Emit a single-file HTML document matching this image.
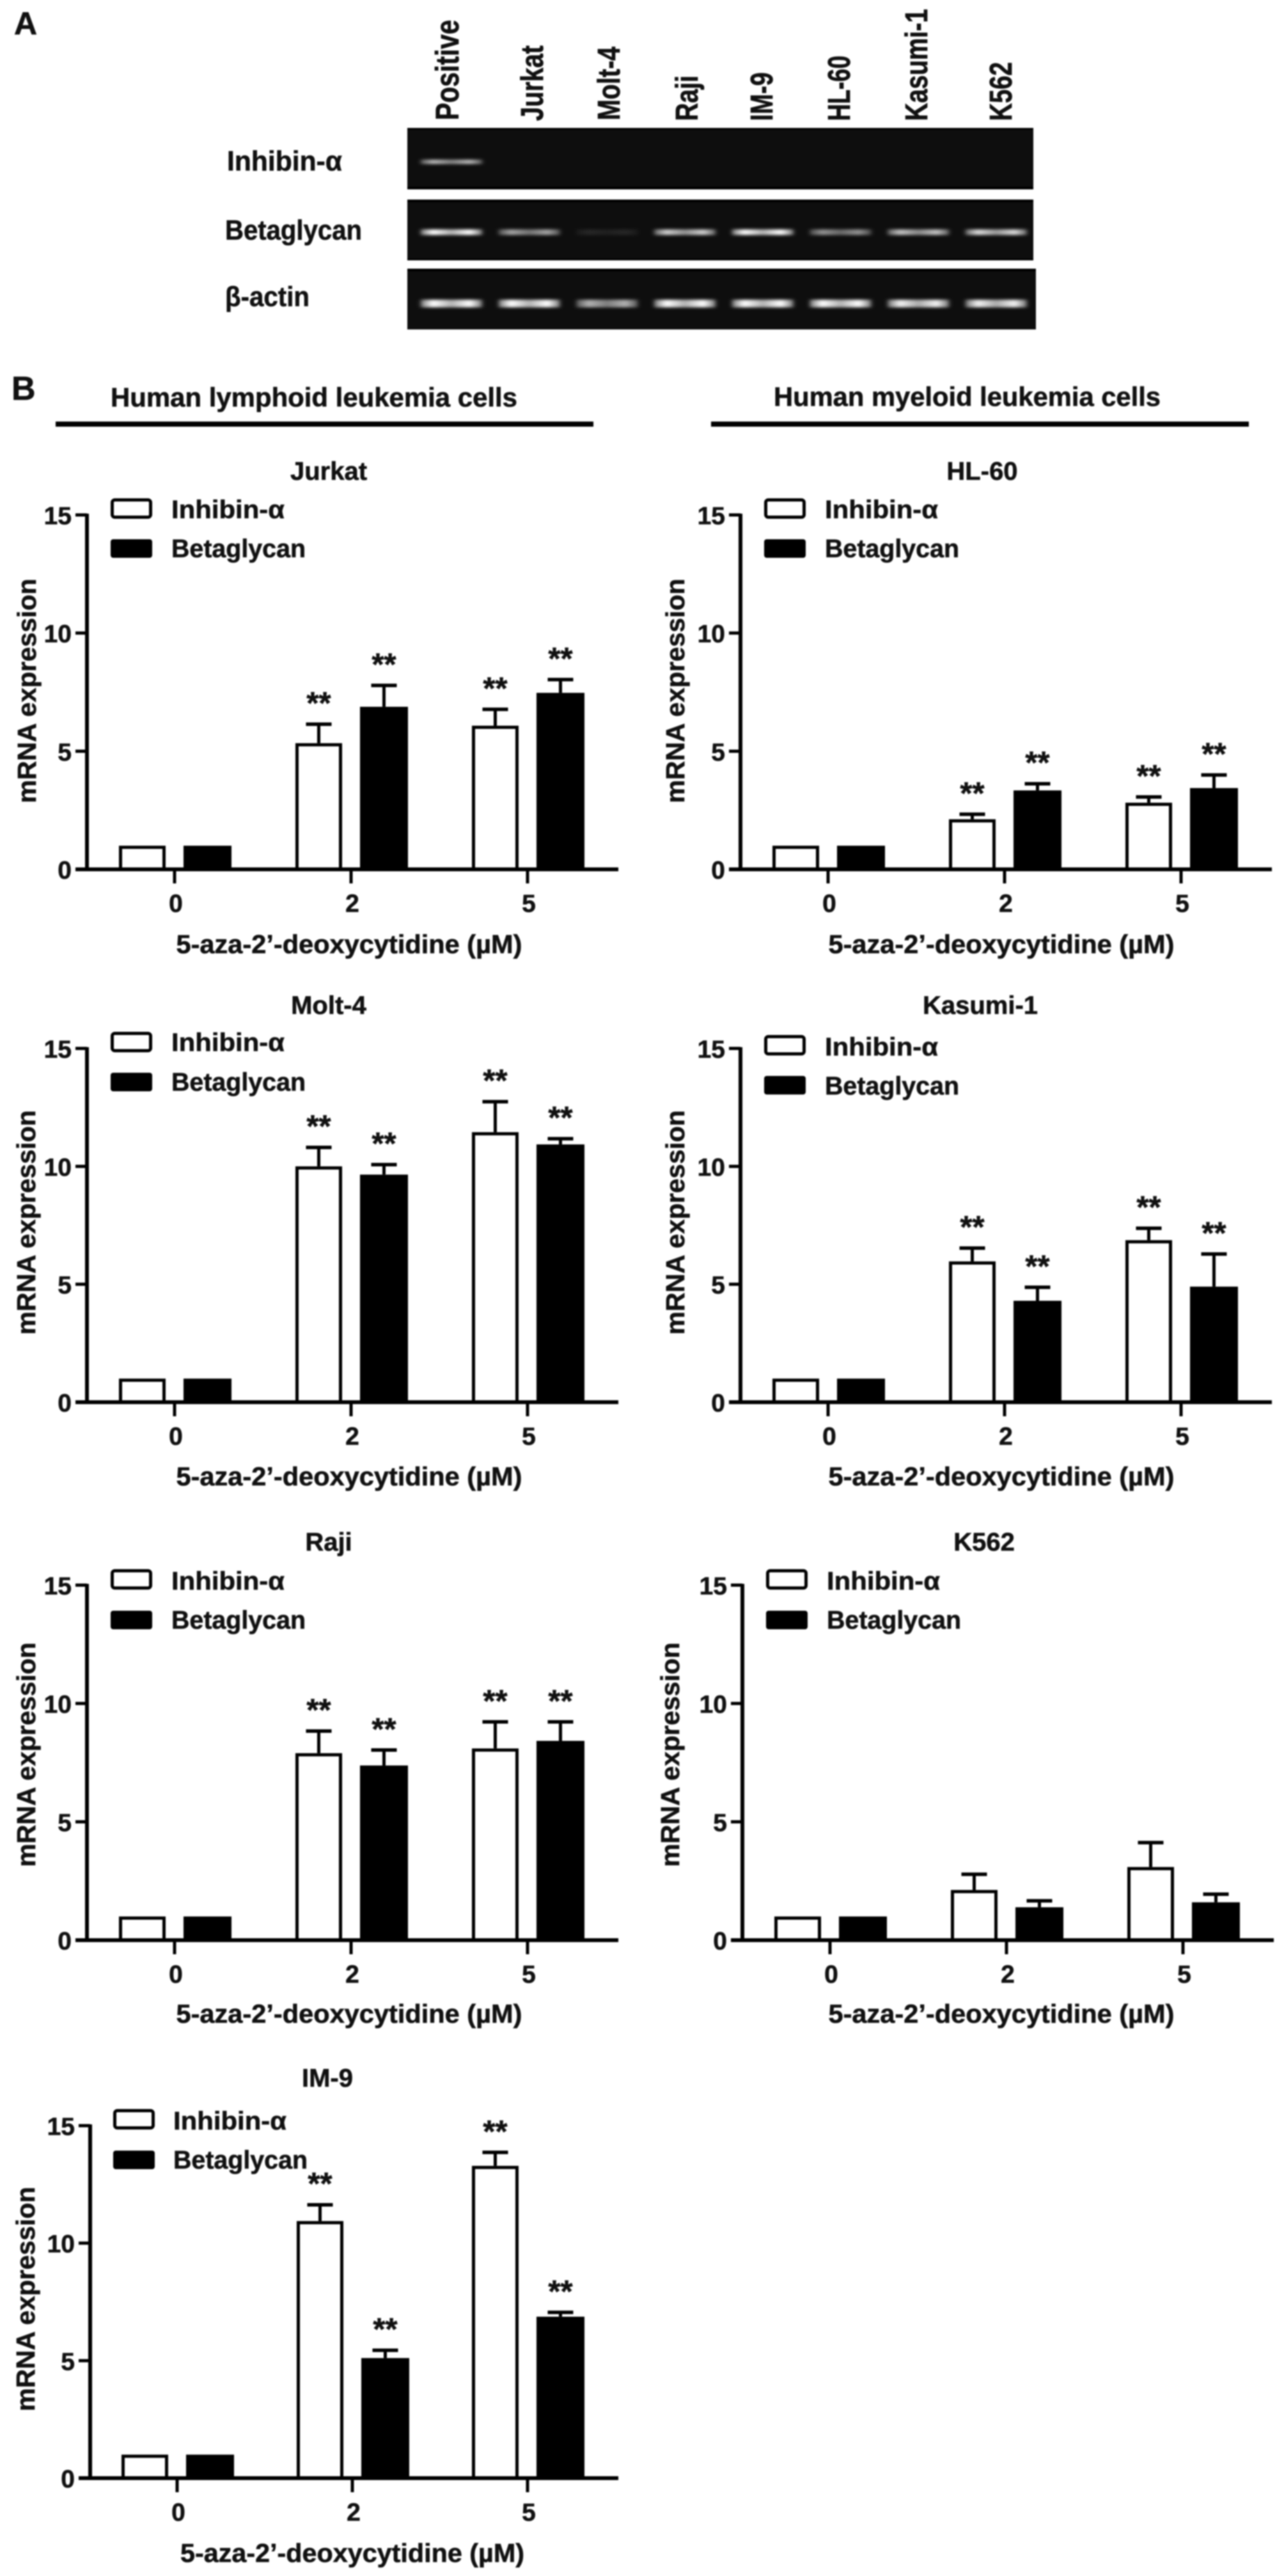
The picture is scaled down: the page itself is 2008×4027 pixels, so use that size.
<!DOCTYPE html>
<html lang="en">
<head>
<meta charset="utf-8">
<title>Inhibin-α and betaglycan mRNA expression in leukemia cells</title>
<style>
html,body{margin:0;padding:0;background:#fff;width:2008px;height:4027px;overflow:hidden}
svg{display:block;filter:blur(1px)}
text{font-family:"Liberation Sans",sans-serif;font-weight:bold;fill:#111;stroke:#111;stroke-width:.6px}
.c{dominant-baseline:central}
.m{text-anchor:middle}
</style>
</head>
<body>
<svg id="figure" xmlns="http://www.w3.org/2000/svg" width="2008" height="4027" viewBox="0 0 2008 4027">
<defs>
<filter id="bandBlur" x="-30%" y="-200%" width="160%" height="500%"><feGaussianBlur stdDeviation="3.5 2"/></filter>
<linearGradient id="bandShade" x1="0" x2="1" y1="0" y2="0">
<stop offset="0" stop-color="#fff" stop-opacity=".45"/>
<stop offset=".2" stop-color="#fff" stop-opacity="1"/>
<stop offset=".5" stop-color="#fff" stop-opacity=".68"/>
<stop offset=".8" stop-color="#fff" stop-opacity="1"/>
<stop offset="1" stop-color="#fff" stop-opacity=".45"/>
</linearGradient>
</defs>
<rect width="2008" height="4027" fill="#fff"/>

<text class="c" x="22" y="37" font-size="50">A</text>
<text class="c" x="18" y="608" font-size="52">B</text>

<g id="gel">
<text transform="translate(717,188) rotate(-90) scale(1,1.25)" font-size="41" textLength="157" lengthAdjust="spacingAndGlyphs">Positive</text>
<text transform="translate(849,189) rotate(-90) scale(1,1.25)" font-size="39" textLength="118" lengthAdjust="spacingAndGlyphs">Jurkat</text>
<text transform="translate(969,188) rotate(-90) scale(1,1.25)" font-size="39" textLength="115" lengthAdjust="spacingAndGlyphs">Molt-4</text>
<text transform="translate(1091,189) rotate(-90) scale(1,1.25)" font-size="39" textLength="71" lengthAdjust="spacingAndGlyphs">Raji</text>
<text transform="translate(1208,189) rotate(-90) scale(1,1.25)" font-size="39" textLength="76" lengthAdjust="spacingAndGlyphs">IM-9</text>
<text transform="translate(1329,189) rotate(-90) scale(1,1.25)" font-size="39" textLength="102" lengthAdjust="spacingAndGlyphs">HL-60</text>
<text transform="translate(1450,189) rotate(-90) scale(1,1.25)" font-size="39" textLength="175" lengthAdjust="spacingAndGlyphs">Kasumi-1</text>
<text transform="translate(1582,189) rotate(-90) scale(1,1.25)" font-size="39" textLength="92" lengthAdjust="spacingAndGlyphs">K562</text>

<text class="c" x="355" y="252" font-size="44" textLength="180" lengthAdjust="spacingAndGlyphs">Inhibin-α</text>
<text class="c" x="352" y="360" font-size="44" textLength="214" lengthAdjust="spacingAndGlyphs">Betaglycan</text>
<text class="c" x="352" y="464" font-size="44" textLength="132" lengthAdjust="spacingAndGlyphs">β-actin</text>

<rect x="637" y="200" width="979" height="96" fill="#0e0e0e"/>
<rect x="637" y="200" width="979" height="3" fill="#030303"/>
<rect x="637" y="292" width="979" height="4" fill="#000"/>
<rect x="637" y="312" width="979" height="95" fill="#0e0e0e"/>
<rect x="637" y="312" width="979" height="4" fill="#000"/>
<rect x="637" y="404" width="979" height="3" fill="#030303"/>
<rect x="637" y="420" width="983" height="95" fill="#0e0e0e"/>
<rect x="637" y="420" width="983" height="4" fill="#000"/>
</g>

<text class="c" x="173" y="621" font-size="42" textLength="636" lengthAdjust="spacingAndGlyphs">Human lymphoid leukemia cells</text>
<text class="c" x="1210" y="620" font-size="42" textLength="605" lengthAdjust="spacingAndGlyphs">Human myeloid leukemia cells</text>
<rect x="87" y="659" width="841" height="8" fill="#000"/>
<rect x="1112" y="659" width="841" height="8" fill="#000"/>

<g id="panel-jurkat" transform="translate(136,1359)">
<text class="c m" x="378" y="-622" font-size="40">Jurkat</text>
<rect x="39.5" y="-577.5" width="60" height="27" rx="4" fill="#fff" stroke="#000" stroke-width="5"/>
<text class="c" x="132" y="-562" font-size="40" textLength="177" lengthAdjust="spacingAndGlyphs">Inhibin-α</text>
<rect x="37" y="-516" width="65" height="29" rx="4" fill="#000"/>
<text class="c" x="132" y="-501" font-size="40" textLength="210" lengthAdjust="spacingAndGlyphs">Betaglycan</text>
<text class="c m" transform="translate(-94,-279) rotate(-90)" font-size="41" textLength="351" lengthAdjust="spacingAndGlyphs">mRNA expression</text>
<text class="c m" x="410" y="117" font-size="41" textLength="541" lengthAdjust="spacingAndGlyphs">5-aza-2’-deoxycytidine (µM)</text>
</g>

<g id="panel-hl60" transform="translate(1158,1359)">
<text class="c m" x="378" y="-622" font-size="40">HL-60</text>
<rect x="39.5" y="-577.5" width="60" height="27" rx="4" fill="#fff" stroke="#000" stroke-width="5"/>
<text class="c" x="132" y="-562" font-size="40" textLength="177" lengthAdjust="spacingAndGlyphs">Inhibin-α</text>
<rect x="37" y="-516" width="65" height="29" rx="4" fill="#000"/>
<text class="c" x="132" y="-501" font-size="40" textLength="210" lengthAdjust="spacingAndGlyphs">Betaglycan</text>
<text class="c m" transform="translate(-102,-279) rotate(-90)" font-size="41" textLength="351" lengthAdjust="spacingAndGlyphs">mRNA expression</text>
<text class="c m" x="408" y="117" font-size="41" textLength="541" lengthAdjust="spacingAndGlyphs">5-aza-2’-deoxycytidine (µM)</text>
</g>

<g id="panel-molt4" transform="translate(136,2192)">
<text class="c m" x="378" y="-620" font-size="40">Molt-4</text>
<rect x="39.5" y="-576.5" width="60" height="27" rx="4" fill="#fff" stroke="#000" stroke-width="5"/>
<text class="c" x="132" y="-562" font-size="40" textLength="177" lengthAdjust="spacingAndGlyphs">Inhibin-α</text>
<rect x="37" y="-515" width="65" height="29" rx="4" fill="#000"/>
<text class="c" x="132" y="-500" font-size="40" textLength="210" lengthAdjust="spacingAndGlyphs">Betaglycan</text>
<text class="c m" transform="translate(-95,-281) rotate(-90)" font-size="41" textLength="351" lengthAdjust="spacingAndGlyphs">mRNA expression</text>
<text class="c m" x="410" y="116" font-size="41" textLength="541" lengthAdjust="spacingAndGlyphs">5-aza-2’-deoxycytidine (µM)</text>
</g>

<g id="panel-kasumi" transform="translate(1158,2192)">
<text class="c m" x="375" y="-620" font-size="40">Kasumi-1</text>
<rect x="39.5" y="-571.5" width="60" height="27" rx="4" fill="#fff" stroke="#000" stroke-width="5"/>
<text class="c" x="132" y="-555" font-size="40" textLength="177" lengthAdjust="spacingAndGlyphs">Inhibin-α</text>
<rect x="37" y="-510" width="65" height="29" rx="4" fill="#000"/>
<text class="c" x="132" y="-494" font-size="40" textLength="210" lengthAdjust="spacingAndGlyphs">Betaglycan</text>
<text class="c m" transform="translate(-102,-281) rotate(-90)" font-size="41" textLength="351" lengthAdjust="spacingAndGlyphs">mRNA expression</text>
<text class="c m" x="408" y="116" font-size="41" textLength="541" lengthAdjust="spacingAndGlyphs">5-aza-2’-deoxycytidine (µM)</text>
</g>

<g id="panel-raji" transform="translate(136,3033)">
<text class="c m" x="378" y="-622" font-size="40">Raji</text>
<rect x="39.5" y="-577.5" width="60" height="27" rx="4" fill="#fff" stroke="#000" stroke-width="5"/>
<text class="c" x="132" y="-561" font-size="40" textLength="177" lengthAdjust="spacingAndGlyphs">Inhibin-α</text>
<rect x="37" y="-515" width="65" height="29" rx="4" fill="#000"/>
<text class="c" x="132" y="-500" font-size="40" textLength="210" lengthAdjust="spacingAndGlyphs">Betaglycan</text>
<text class="c m" transform="translate(-95,-290) rotate(-90)" font-size="41" textLength="351" lengthAdjust="spacingAndGlyphs">mRNA expression</text>
<text class="c m" x="410" y="115" font-size="41" textLength="541" lengthAdjust="spacingAndGlyphs">5-aza-2’-deoxycytidine (µM)</text>
</g>

<g id="panel-k562" transform="translate(1161,3033)">
<text class="c m" x="378" y="-622" font-size="40">K562</text>
<rect x="39.5" y="-577.5" width="60" height="27" rx="4" fill="#fff" stroke="#000" stroke-width="5"/>
<text class="c" x="132" y="-561" font-size="40" textLength="177" lengthAdjust="spacingAndGlyphs">Inhibin-α</text>
<rect x="37" y="-515" width="65" height="29" rx="4" fill="#000"/>
<text class="c" x="132" y="-500" font-size="40" textLength="210" lengthAdjust="spacingAndGlyphs">Betaglycan</text>
<text class="c m" transform="translate(-113,-290) rotate(-90)" font-size="41" textLength="351" lengthAdjust="spacingAndGlyphs">mRNA expression</text>
<text class="c m" x="405" y="115" font-size="41" textLength="541" lengthAdjust="spacingAndGlyphs">5-aza-2’-deoxycytidine (µM)</text>
</g>

<g id="panel-im9" transform="translate(141,3874)">
<text class="c m" x="371" y="-625" font-size="40">IM-9</text>
<rect x="38.5" y="-574.5" width="60" height="27" rx="4" fill="#fff" stroke="#000" stroke-width="5"/>
<text class="c" x="130" y="-558" font-size="40" textLength="177" lengthAdjust="spacingAndGlyphs">Inhibin-α</text>
<rect x="36" y="-512" width="65" height="29" rx="4" fill="#000"/>
<text class="c" x="130" y="-497" font-size="40" textLength="210" lengthAdjust="spacingAndGlyphs">Betaglycan</text>
<text class="c m" transform="translate(-101,-280) rotate(-90)" font-size="41" textLength="351" lengthAdjust="spacingAndGlyphs">mRNA expression</text>
<text class="c m" x="410" y="117" font-size="41" textLength="538" lengthAdjust="spacingAndGlyphs">5-aza-2’-deoxycytidine (µM)</text>
</g>
</svg>

<script>
// ---- shared axis data ----
var doseLabels = ['0', '2', '5'];
var yTicks = [0, 5, 10, 15];

// ---- series values: mean and upper error-bar value ----
var jurkatInhibin = [1, 5.34, 6.08];
var jurkatInhibinTop = [1, 6.17, 6.8];
var jurkatBeta = [1, 6.88, 7.47];
var jurkatBetaTop = [1, 7.81, 8.06];
var jurkatInhibinStars = ['', '**', '**'];
var jurkatBetaStars = ['', '**', '**'];

var hl60Inhibin = [1, 2.12, 2.82];
var hl60InhibinTop = [1, 2.36, 3.09];
var hl60Beta = [1, 3.34, 3.44];
var hl60BetaTop = [1, 3.65, 4.02];
var hl60InhibinStars = ['', '**', '**'];
var hl60BetaStars = ['', '**', '**'];

var molt4Inhibin = [1, 10.0, 11.45];
var molt4InhibinTop = [1, 10.83, 12.77];
var molt4Beta = [1, 9.65, 10.93];
var molt4BetaTop = [1, 10.1, 11.2];
var molt4InhibinStars = ['', '**', '**'];
var molt4BetaStars = ['', '**', '**'];

var kasumiInhibin = [1, 5.97, 6.87];
var kasumiInhibinTop = [1, 6.56, 7.4];
var kasumiBeta = [1, 4.3, 4.9];
var kasumiBetaTop = [1, 4.9, 6.31];
var kasumiInhibinStars = ['', '**', '**'];
var kasumiBetaStars = ['', '**', '**'];

var rajiInhibin = [1, 7.9, 8.1];
var rajiInhibinTop = [1, 8.86, 9.25];
var rajiBeta = [1, 7.38, 8.42];
var rajiBetaTop = [1, 8.06, 9.25];
var rajiInhibinStars = ['', '**', '**'];
var rajiBetaStars = ['', '**', '**'];

var k562Inhibin = [1, 2.12, 3.09];
var k562InhibinTop = [1, 2.81, 4.15];
var k562Beta = [1, 1.39, 1.6];
var k562BetaTop = [1, 1.69, 1.97];
var k562InhibinStars = ['', '', ''];
var k562BetaStars = ['', '', ''];

var im9Inhibin = [1, 10.94, 13.29];
var im9InhibinTop = [1, 11.66, 13.89];
var im9Beta = [1, 5.11, 6.87];
var im9BetaTop = [1, 5.47, 7.08];
var im9InhibinStars = ['', '**', '**'];
var im9BetaStars = ['', '**', '**'];

// ---- gel band intensities per lane (0..1) ----
var inhibinBands = [0.72, 0, 0, 0, 0, 0, 0, 0];
var betaglycanBands = [1, 0.62, 0.1, 0.8, 1, 0.55, 0.75, 0.85];
var actinBands = [1, 1, 0.68, 1, 1, 1, 0.95, 0.95];

var NS = 'http://www.w3.org/2000/svg';

function make(tag, parent, attrs) {
  var el = document.createElementNS(NS, tag);
  for (var k in attrs) { el.setAttribute(k, attrs[k]); }
  parent.appendChild(el);
  return el;
}

function drawBands(values, centerY, bandH) {
  var gel = document.getElementById('gel');
  values.forEach(function (v, i) {
    if (v <= 0) { return; }
    var cx = 706 + i * 121.7;
    var el = make('rect', gel, {
      x: cx - 48, y: centerY - bandH / 2, width: 96, height: bandH,
      fill: 'url(#bandShade)', 'fill-opacity': v, filter: 'url(#bandBlur)'
    });
    
    
  });
}

function drawPanel(id, inhibin, inhibinTop, beta, betaTop, inhibinStars, betaStars, opt) {
  var g = document.getElementById(id);
  function yScale(v) { return -v * opt.h / 15; }
  function xScale(i) { return opt.first + i * opt.pitch; }

  function drawSeries(vals, tops, stars, x0, x1, black, seriesName) {
    vals.forEach(function (v, i) {
      var left = xScale(i) + x0, right = xScale(i) + x1, mid = (left + right) / 2;
      var top = yScale(v), errTop = yScale(tops[i]);
      if (tops[i] > v) {
        var stem = make('line', g, { x1: mid, x2: mid, y1: top, y2: errTop, stroke: '#000', 'stroke-width': 5 });
        
        
        var cap = make('line', g, { x1: mid - 20, x2: mid + 20, y1: errTop + 1, y2: errTop + 1, stroke: '#000', 'stroke-width': 5.5 });
        
        
      }
      var bar = make('rect', g, {
        x: left + 2.5, y: top + 2.5, width: right - left - 5, height: -top - 2.5,
        fill: black ? '#000' : '#fff', stroke: '#000', 'stroke-width': 5
      });
      
      
      if (stars[i]) {
        var star = make('text', g, { x: mid, y: errTop - 15, 'font-size': 49, 'text-anchor': 'middle' });
        star.textContent = stars[i];
        
        
      }
    });
  }

  drawSeries(inhibin, inhibinTop, inhibinStars, -87, -14, false, 'inhibin');
  drawSeries(beta, betaTop, betaStars, 14, 89, true, 'betaglycan');

  var yAxis = make('line', g, { x1: 0, x2: 0, y1: yScale(15) - 2, y2: 3, stroke: '#000', 'stroke-width': 6 });
  
  
  var xAxis = make('line', g, { x1: -18, x2: opt.xEnd, y1: 0, y2: 0, stroke: '#000', 'stroke-width': 6 });
  
  

  yTicks.forEach(function (t) {
    var tick = make('line', g, { x1: -18, x2: 0, y1: yScale(t), y2: yScale(t), stroke: '#000', 'stroke-width': 5 });
    
    
    var label = make('text', g, { x: -24, y: yScale(t) + 2, 'font-size': 39, 'text-anchor': 'end', 'class': 'c' });
    label.textContent = String(t);
    
    
  });

  doseLabels.forEach(function (d, i) {
    var tick = make('line', g, { x1: xScale(i), x2: xScale(i), y1: 0, y2: 22, stroke: '#000', 'stroke-width': 5 });
    
    
    var label = make('text', g, { x: xScale(i) + 2, y: 54, 'font-size': 39, 'class': 'c m' });
    label.textContent = d;
    
    
  });
}

drawBands(inhibinBands, 253, 7);
drawBands(betaglycanBands, 363, 9);
drawBands(actinBands, 474.5, 12);

var jurkatLayout = { h: 554, first: 137, pitch: 276, xEnd: 831 };
var moltLayout = { h: 553, first: 137, pitch: 276, xEnd: 831 };
var rajiLayout = { h: 555, first: 137, pitch: 276, xEnd: 831 };
drawPanel('panel-jurkat', jurkatInhibin, jurkatInhibinTop, jurkatBeta, jurkatBetaTop, jurkatInhibinStars, jurkatBetaStars, jurkatLayout);
drawPanel('panel-hl60', hl60Inhibin, hl60InhibinTop, hl60Beta, hl60BetaTop, hl60InhibinStars, hl60BetaStars, jurkatLayout);
drawPanel('panel-molt4', molt4Inhibin, molt4InhibinTop, molt4Beta, molt4BetaTop, molt4InhibinStars, molt4BetaStars, moltLayout);
drawPanel('panel-kasumi', kasumiInhibin, kasumiInhibinTop, kasumiBeta, kasumiBetaTop, kasumiInhibinStars, kasumiBetaStars, moltLayout);
drawPanel('panel-raji', rajiInhibin, rajiInhibinTop, rajiBeta, rajiBetaTop, rajiInhibinStars, rajiBetaStars, rajiLayout);
drawPanel('panel-k562', k562Inhibin, k562InhibinTop, k562Beta, k562BetaTop, k562InhibinStars, k562BetaStars, rajiLayout);
drawPanel('panel-im9', im9Inhibin, im9InhibinTop, im9Beta, im9BetaTop, im9InhibinStars, im9BetaStars, { h: 551, first: 136, pitch: 274, xEnd: 826 });
</script>
</body>
</html>
